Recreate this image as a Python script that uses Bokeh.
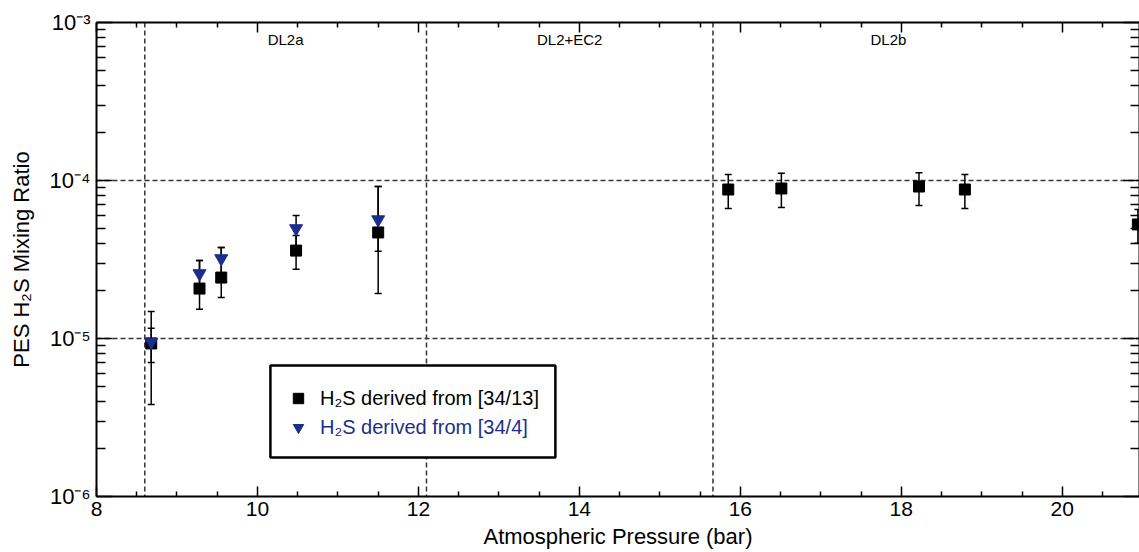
from bokeh.plotting import figure
from bokeh.models import (Range1d, LogAxis, LinearAxis, FixedTicker, Span, Whisker, TeeHead,
                          ColumnDataSource, Label, BoxAnnotation, Legend, LegendItem,
                          CustomJSTickFormatter)
from bokeh.embed import file_html
from bokeh.resources import INLINE

# ---------------- data ----------------
x_13 = [8.68, 9.28, 9.55, 10.48, 11.50, 15.85, 16.51, 18.22, 18.79, 20.94]
h2s_13 = [9.3e-6, 2.07e-5, 2.43e-5, 3.6e-5, 4.69e-5, 8.77e-5, 8.9e-5, 9.16e-5, 8.77e-5, 5.27e-5]
upper_13 = [1.48e-5, 3.12e-5, 3.77e-5, 4.49e-5, 9.16e-5, 1.09e-4, 1.11e-4, 1.12e-4, 1.09e-4, 6.55e-5]
lower_13 = [3.82e-6, 1.53e-5, 1.82e-5, 2.74e-5, 1.93e-5, 6.65e-5, 6.74e-5, 6.95e-5, 6.65e-5, 4.0e-5]

x_4 = [8.68, 9.28, 9.55, 10.48, 11.50]
h2s_4 = [9.5e-6, 2.58e-5, 3.21e-5, 4.97e-5, 5.66e-5]
upper_4 = [1.16e-5, 3.12e-5, 3.77e-5, 6.0e-5, 9.16e-5]
lower_4 = [7.05e-6, 2.16e-5, 2.54e-5, 3.82e-5, 3.56e-5]

region_boundaries = [8.6, 12.1, 15.66]
region_names = ["DL2a", "DL2+EC2", "DL2b"]
region_label_x = [10.35, 13.88, 17.84]
ref_levels = [1e-4, 1e-5]

x_major = [8, 10, 12, 14, 16, 18, 20]
x_minor = [8.5, 9, 9.5, 10.5, 11, 11.5, 12.5, 13, 13.5, 14.5, 15, 15.5,
           16.5, 17, 17.5, 18.5, 19, 19.5, 20.5]
y_major = [1e-6, 1e-5, 1e-4, 1e-3]
y_tick_labels = ["10\u207b\u2076", "10\u207b\u2075", "10\u207b\u2074", "10\u207b\u00b3"]
y_minor = [m * 10.0 ** d for d in (-6, -5, -4) for m in range(2, 10)]

label_13 = "H\u2082S derived from [34/13]"
label_4 = "H\u2082S derived from [34/4]"
y_title = "PES H\u2082S Mixing Ratio"
x_title = "Atmospheric Pressure (bar)"

# ---------------- style ----------------
FONT = "Liberation Sans"
BLUE = "#1c2e8c"

p = figure(width=1139, height=552, x_range=Range1d(8, 20.96), y_range=Range1d(1e-6, 1e-3),
           y_axis_type="log", output_backend="svg", toolbar_location=None,
           min_border_left=96, min_border_right=0, min_border_top=22, min_border_bottom=56)
p.xgrid.visible = False
p.ygrid.visible = False
p.outline_line_color = None
p.background_fill_color = "white"
p.border_fill_color = "white"

blank = CustomJSTickFormatter(code="return ''")


def style_axis(ax, major_in, minor_in):
    ax.axis_line_width = 2
    ax.axis_line_color = "black"
    ax.major_tick_in = major_in
    ax.major_tick_out = 0
    ax.minor_tick_in = minor_in
    ax.minor_tick_out = 0
    ax.major_tick_line_width = 1.5
    ax.minor_tick_line_width = 1.5
    ax.major_tick_line_color = "black"
    ax.minor_tick_line_color = "black"


# bottom axis
xa = p.xaxis[0]
xa.ticker = FixedTicker(ticks=x_major, minor_ticks=x_minor)
style_axis(xa, 10, 5)
xa.major_label_text_font = FONT
xa.major_label_text_font_size = "21px"
xa.major_label_text_color = "black"
xa.major_label_standoff = 5
xa.axis_label = x_title
xa.axis_label_text_font = FONT
xa.axis_label_text_font_size = "22px"
xa.axis_label_text_font_style = "normal"
xa.axis_label_text_color = "black"
xa.axis_label_standoff = 5

# left axis
ya = p.yaxis[0]
ya.ticker = FixedTicker(ticks=y_major, minor_ticks=y_minor)
ya.major_label_overrides = {t: s for t, s in zip(y_major, y_tick_labels)}
style_axis(ya, 16, 9)
ya.major_label_text_font = FONT
ya.major_label_text_font_size = "22px"
ya.major_label_text_color = "black"
ya.major_label_standoff = 6
ya.axis_label = y_title
ya.axis_label_text_font = FONT
ya.axis_label_text_font_size = "22px"
ya.axis_label_text_font_style = "normal"
ya.axis_label_text_color = "black"
ya.axis_label_standoff = 13

# top and right axes (mirrored ticks)
top_ax = LinearAxis(ticker=FixedTicker(ticks=x_major, minor_ticks=x_minor), formatter=blank,
                    major_label_standoff=0)
style_axis(top_ax, 10, 5)
p.add_layout(top_ax, "above")
right_ax = LogAxis(ticker=FixedTicker(ticks=y_major, minor_ticks=y_minor), formatter=blank,
                   major_label_standoff=0)
style_axis(right_ax, 16, 9)
p.add_layout(right_ax, "right")

# dashed reference lines
for b in region_boundaries:
    p.add_layout(Span(location=b, dimension="height", line_color="#333333", line_width=1.5,
                      line_dash="5 3", level="underlay"))
for lv in ref_levels:
    p.add_layout(Span(location=lv, dimension="width", line_color="#333333", line_width=1.5,
                      line_dash="5 3", level="underlay"))

# region labels
for name, xx in zip(region_names, region_label_x):
    p.add_layout(Label(x=xx, y=1e-3, y_offset=-8, text=name, text_align="center",
                       text_baseline="top", text_font=FONT, text_font_size="15px",
                       text_color="black"))

# error bars
src13 = ColumnDataSource(dict(x=x_13, y=h2s_13, upper=upper_13, lower=lower_13))
src4 = ColumnDataSource(dict(x=x_4, y=h2s_4, upper=upper_4, lower=lower_4))
for src in (src13, src4):
    p.add_layout(Whisker(source=src, base="x", upper="upper", lower="lower", dimension="height",
                         line_color="black", line_width=1.5, level="underlay",
                         upper_head=TeeHead(size=7, line_color="black", line_width=1.5),
                         lower_head=TeeHead(size=7, line_color="black", line_width=1.5)))

r13 = p.scatter(x="x", y="y", source=src13, marker="square", size=11,
                fill_color="black", line_color="black")
r4 = p.scatter(x="x", y="y", source=src4, marker="inverted_triangle", size=13,
               fill_color=BLUE, line_color=BLUE)

# legend box and entries
p.add_layout(BoxAnnotation(left=10.161, right=13.702, top=6.75e-6, bottom=1.766e-6,
                           fill_color="white", fill_alpha=1.0, line_color="black",
                           line_alpha=1.0, line_width=2.5, level="annotation"))
common = dict(border_line_color=None, background_fill_alpha=0, padding=0, margin=0,
              glyph_width=26, glyph_height=26, label_standoff=9, spacing=0,
              label_text_font=FONT, label_text_font_size="20px")
p.add_layout(Legend(items=[LegendItem(label=label_13, renderers=[r13])], location=(189, 85),
                    label_text_color="black", **common))
p.add_layout(Legend(items=[LegendItem(label=label_4, renderers=[r4])], location=(189, 56),
                    label_text_color=BLUE, **common))

open("out.html", "w").write(file_html(p, INLINE))
